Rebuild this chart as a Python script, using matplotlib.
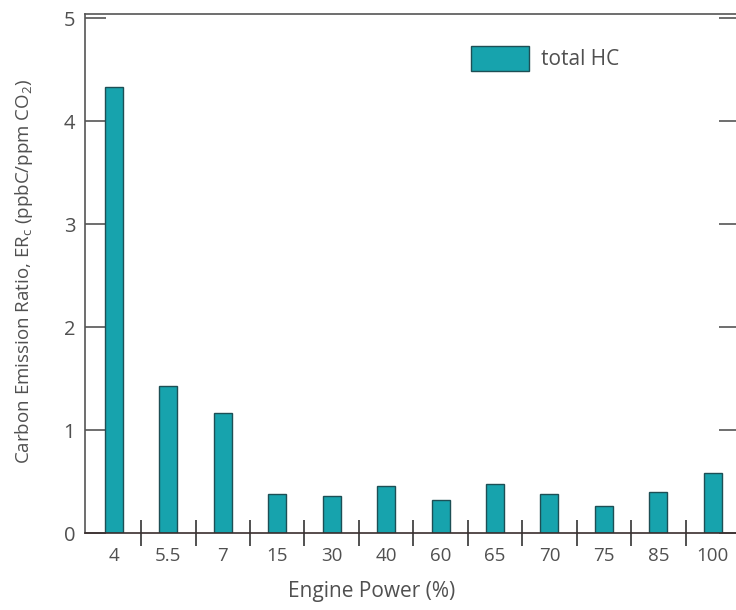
import matplotlib.pyplot as plt
import numpy as np

power = ['4', '5.5', '7', '15', '30', '40', '60', '65', '70', '75', '85', '100']
total_hc = [4.33, 1.43, 1.17, 0.38, 0.36, 0.46, 0.32, 0.48, 0.38, 0.26, 0.40, 0.58]

plt.rcParams['font.family'] = ['Open Sans', 'DejaVu Sans']
text_col = '#505050'

fig = plt.figure(figsize=(7.36, 6.10), dpi=100)
ax = fig.add_axes([0.1155, 0.126, 0.89, 0.851])

x = np.arange(len(power))
ax.bar(x, total_hc, width=0.33, color='#17a3ad', edgecolor='#1d4f55',
       linewidth=1.0, label='total HC', zorder=2)

ax.set_xlim(-0.53, len(power) - 0.5)
ax.set_ylim(0, 5.04)

ax.set_xticks(x)
ax.set_xticklabels(power)
ax.set_xticks(x[:-1] + 0.5, minor=True)
ax.tick_params(axis='x', which='major', length=0, pad=10, labelsize=13.5, labelcolor=text_col)
ax.tick_params(axis='x', which='minor', direction='inout', length=19, width=1.2, color='#333333')

ax.set_yticks([0, 1, 2, 3, 4, 5])
ax.tick_params(axis='y', direction='in', length=15, width=1.2, color='#555555',
               labelsize=14.5, labelcolor=text_col, pad=7, right=True)

for s in ax.spines.values():
    s.set_color('#555555')
    s.set_linewidth(1.2)
ax.spines['bottom'].set_color('#3a2e2e')

fig.text(0.505, 0.03, 'Engine Power (%)', fontsize=15, color=text_col,
         ha='center', va='center')
fig.text(0.032, 0.555,
         'Carbon Emission Ratio, ER$_\\mathregular{c}$ (ppbC/ppm CO$_\\mathregular{2}$)',
         fontsize=13.5, color=text_col, rotation=90, ha='center', va='center')

ax.legend(loc='upper left', bbox_to_anchor=(0.56, 0.975), frameon=False, fontsize=15,
          handlelength=2.8, handleheight=1.5, handletextpad=0.6, labelcolor=text_col)

fig.savefig('out.png', dpi=100)
